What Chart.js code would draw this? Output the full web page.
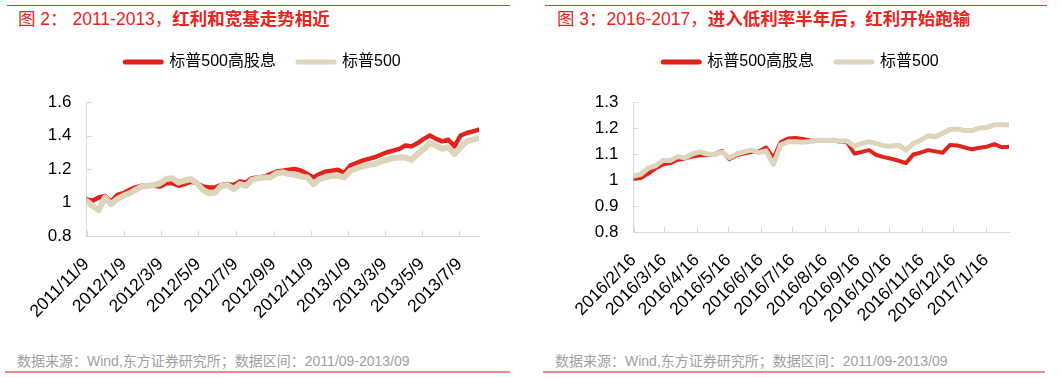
<!DOCTYPE html>
<html lang="zh">
<head>
<meta charset="UTF-8">
<title>标普500高股息 vs 标普500</title>
<script src="https://cdn.jsdelivr.net/npm/chart.js"></script>
<style>
  body { margin: 0; background: #fff; }
  #page { position: relative; width: 1061px; height: 378px; overflow: hidden;
          font-family: 'Liberation Sans', 'Noto Sans CJK SC', sans-serif; }
  canvas { position: absolute; top: 0; }
  .rule-top { position: absolute; top: 5px; height: 1px; background: #e5372c; }
  .rule-bot { position: absolute; top: 371px; height: 2px; background: #f08c86; }
  .title { position: absolute; top: 9px; font-size: 17.5px; line-height: 20px; color: #e8251f; white-space: nowrap; }
  .title b { font-weight: bold; }
  .note { position: absolute; top: 352px; font-size: 14px; line-height: 18px; color: #a0a0a0; white-space: nowrap; }
</style>
</head>
<body>
<div id="page">
  <div class="rule-top" style="left:7px;width:503px"></div>
  <div class="rule-top" style="left:545px;width:502px"></div>
  <div class="title" style="left:18px">图 2： 2011-2013，<b>红利和宽基走势相近</b></div>
  <div class="title" style="left:557px">图 3：2016-2017，<b>进入低利率半年后，红利开始跑输</b></div>
  <canvas id="left" width="530" height="345" style="left:0"></canvas>
  <canvas id="right" width="531" height="345" style="left:530px"></canvas>
  <div class="note" style="left:17px">数据来源：Wind,东方证券研究所；数据区间：2011/09-2013/09</div>
  <div class="note" style="left:555px">数据来源：Wind,东方证券研究所；数据区间：2011/09-2013/09</div>
  <div class="rule-bot" style="left:5px;width:505px"></div>
  <div class="rule-bot" style="left:543px;width:502px"></div>
</div>
<script>
// ---- data: figure 2 (2011-2013), one value every 10 days from leftStart
const leftStart = '2011/11/9';
const leftStep = 10;
const leftTicks = ['2011/11/9', '2012/1/9', '2012/3/9', '2012/5/9', '2012/7/9', '2012/9/9',
                   '2012/11/9', '2013/1/9', '2013/3/9', '2013/5/9', '2013/7/9'];
const leftHighDiv = [1.02, 1.01, 1.03, 1.04, 1.005, 1.045, 1.055, 1.075, 1.09, 1.10,
                     1.10, 1.10, 1.095, 1.115, 1.115, 1.10, 1.11, 1.125, 1.115, 1.095,
                     1.09, 1.09, 1.105, 1.11, 1.105, 1.125, 1.12, 1.145, 1.15, 1.155,
                     1.17, 1.185, 1.19, 1.195, 1.20, 1.19, 1.17, 1.15, 1.17, 1.185,
                     1.19, 1.195, 1.175, 1.22, 1.235, 1.25, 1.26, 1.27, 1.285, 1.30,
                     1.31, 1.32, 1.34, 1.335, 1.355, 1.38, 1.40, 1.38, 1.365, 1.375,
                     1.335, 1.40, 1.415, 1.425, 1.435];
const leftSpx = [1.01, 0.98, 0.955, 1.03, 0.99, 1.02, 1.04, 1.055, 1.075, 1.095,
                 1.10, 1.105, 1.115, 1.14, 1.145, 1.12, 1.13, 1.14, 1.115, 1.075,
                 1.055, 1.06, 1.10, 1.105, 1.08, 1.11, 1.10, 1.135, 1.145, 1.15,
                 1.15, 1.175, 1.18, 1.17, 1.165, 1.155, 1.15, 1.11, 1.14, 1.15,
                 1.16, 1.16, 1.15, 1.19, 1.205, 1.215, 1.225, 1.23, 1.245, 1.255,
                 1.265, 1.27, 1.268, 1.255, 1.29, 1.32, 1.355, 1.34, 1.32, 1.33,
                 1.29, 1.33, 1.365, 1.375, 1.385];

// ---- data: figure 3 (2016-2017), one value every 7 days from rightStart
const rightStart = '2016/2/16';
const rightStep = 7;
const rightTicks = ['2016/2/16', '2016/3/16', '2016/4/16', '2016/5/16', '2016/6/16', '2016/7/16',
                    '2016/8/16', '2016/9/16', '2016/10/16', '2016/11/16', '2016/12/16', '2017/1/16'];
const rightHighDiv = [1.005, 1.008, 1.025, 1.045, 1.06, 1.065, 1.078, 1.083, 1.09, 1.095,
                      1.095, 1.10, 1.112, 1.08, 1.095, 1.102, 1.108, 1.11, 1.125, 1.085,
                      1.145, 1.16, 1.162, 1.158, 1.152, 1.15, 1.15, 1.152, 1.148, 1.145,
                      1.102, 1.108, 1.115, 1.096, 1.088, 1.082, 1.074, 1.065, 1.098, 1.105,
                      1.115, 1.11, 1.105, 1.135, 1.133, 1.125, 1.118, 1.124, 1.128, 1.138,
                      1.126, 1.128];
const rightSpx = [1.015, 1.022, 1.045, 1.055, 1.075, 1.075, 1.09, 1.085, 1.10, 1.108,
                  1.10, 1.098, 1.108, 1.085, 1.10, 1.108, 1.115, 1.105, 1.112, 1.06,
                  1.135, 1.147, 1.147, 1.145, 1.148, 1.153, 1.152, 1.153, 1.15, 1.15,
                  1.13, 1.14, 1.147, 1.14, 1.132, 1.13, 1.134, 1.115, 1.14, 1.153,
                  1.17, 1.166, 1.18, 1.194, 1.196, 1.19, 1.19, 1.2, 1.202, 1.212,
                  1.213, 1.212];

const RED = '#e2231a';
const BEIGE = '#ddd4bc';
const AXIS = '#d9d9d9';

Chart.defaults.font.family = "'Liberation Sans', 'Noto Sans CJK SC', sans-serif";
Chart.defaults.color = '#000';

function dayNum(s) {
  const [y, m, d] = s.split('/').map(Number);
  return Date.UTC(y, m - 1, d) / 864e5;
}

// short tick marks pointing into the plot, like the original
const innerTicks = {
  id: 'innerTicks',
  beforeDatasetsDraw(chart) {
    const {ctx, chartArea: a, scales: {x, y}} = chart;
    ctx.save();
    ctx.strokeStyle = AXIS;
    ctx.lineWidth = 1;
    ctx.beginPath();
    x.ticks.forEach(t => {
      const px = Math.round(x.getPixelForValue(t.value)) + 0.5;
      ctx.moveTo(px, a.bottom);
      ctx.lineTo(px, a.bottom - 5);
    });
    y.ticks.forEach(t => {
      const py = Math.round(y.getPixelForValue(t.value)) + 0.5;
      ctx.moveTo(a.left, py);
      ctx.lineTo(a.left + 5, py);
    });
    ctx.stroke();
    ctx.restore();
  }
};

// extra space between the legend and the plot
function legendGap(extra) {
  return {
    id: 'legendGap',
    afterInit(chart) {
      const lg = chart.legend;
      const fit = lg.fit;
      lg.fit = function () { fit.call(this); this.height += extra; };
    }
  };
}

function buildChart(id, o) {
  const start = dayNum(o.start);
  const tickDays = o.ticks.map(s => dayNum(s) - start);
  const pts = vals => vals.map((v, i) => ({x: i * o.step, y: v}));

  return new Chart(document.getElementById(id), {
    type: 'line',
    data: {
      datasets: [
        {label: '标普500高股息', data: pts(o.high), borderColor: RED, backgroundColor: RED,
         borderWidth: o.redW, order: 1},
        {label: '标普500', data: pts(o.spx), borderColor: BEIGE, backgroundColor: BEIGE,
         borderWidth: o.beigeW, order: 0}
      ]
    },
    options: {
      responsive: false,
      animation: false,
      elements: {
        point: {radius: 0},
        line: {tension: 0, borderJoinStyle: 'round', borderCapStyle: 'round'}
      },
      layout: {padding: {left: o.padL, right: o.padR, top: o.padT, bottom: 0}},
      plugins: {
        tooltip: {enabled: false},
        legend: {
          labels: {
            usePointStyle: true,
            pointStyle: 'line',
            pointStyleWidth: 36,
            padding: 22,
            color: '#000',
            font: {size: 16},
            sort: (a, b) => a.datasetIndex - b.datasetIndex,
            generateLabels: chart => Chart.defaults.plugins.legend.labels.generateLabels(chart)
              .map(item => Object.assign(item, {lineWidth: 5, lineCap: 'round'}))
          }
        }
      },
      scales: {
        x: {
          type: 'linear',
          min: 0,
          max: (o.high.length - 1) * o.step,
          grid: {display: false, drawTicks: false},
          border: {display: true, color: AXIS},
          afterBuildTicks: s => { s.ticks = tickDays.map(v => ({value: v})); },
          afterFit: s => { s.height = o.xH; },
          ticks: {
            autoSkip: false,
            maxRotation: 45,
            minRotation: 45,
            padding: 18,
            font: {size: o.xFont},
            callback: v => o.ticks[tickDays.indexOf(v)]
          }
        },
        y: {
          min: o.yMin,
          max: o.yMax,
          grid: {display: false, drawTicks: false},
          border: {display: true, color: AXIS},
          afterFit: s => { s.width = o.yW; },
          ticks: {stepSize: o.yStep, padding: 15, font: {size: 17},
                  callback: v => String(+v.toFixed(2))}
        }
      }
    },
    plugins: [innerTicks, legendGap(22)]
  });
}

buildChart('left', {
  start: leftStart, step: leftStep, ticks: leftTicks, high: leftHighDiv, spx: leftSpx,
  yMin: 0.8, yMax: 1.6, yStep: 0.2, redW: 4.5, beigeW: 6, xFont: 17.5,
  padL: 47, padR: 51, padT: 32, yW: 39.5, xH: 109
});

buildChart('right', {
  start: rightStart, step: rightStep, ticks: rightTicks, high: rightHighDiv, spx: rightSpx,
  yMin: 0.8, yMax: 1.3, yStep: 0.1, redW: 4, beigeW: 5, xFont: 17.5,
  padL: 63, padR: 52, padT: 32, yW: 40.5, xH: 113
});
</script>
</body>
</html>
